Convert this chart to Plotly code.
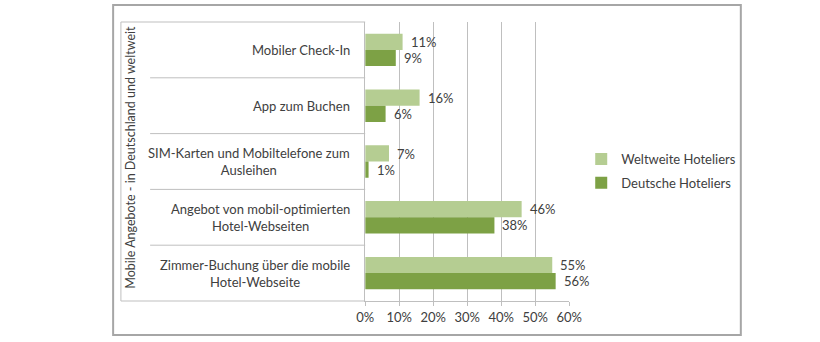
import plotly.graph_objects as go

categories = [
    "Mobiler Check-In",
    "App zum Buchen",
    "SIM-Karten und Mobiltelefone zum<br>Ausleihen",
    "Angebot von mobil-optimierten<br>Hotel-Webseiten",
    "Zimmer-Buchung über die mobile<br>Hotel-Webseite",
]
weltweit = [11, 16, 7, 46, 55]
deutsch = [9, 6, 1, 38, 56]
series_names = ["Weltweite Hoteliers", "Deutsche Hoteliers"]
tick_vals = [0, 10, 20, 30, 40, 50, 60]
tick_text = ["0%", "10%", "20%", "30%", "40%", "50%", "60%"]
y_title = "Mobile Angebote - in Deutschland und weltweit"

W, H = 820, 342
FONT = "Lato"
TXT = "#404040"
GRID = "#bfbfbf"
LIGHT = "#b5cd92"
DARK = "#7da145"

def fx(px):
    return px / W

def fy(py):
    return 1 - py / H

fig = go.Figure()
fig.add_trace(go.Bar(y=categories, x=weltweit, orientation="h", name=series_names[0],
                     marker=dict(color=LIGHT, line=dict(width=0)), legendgroup="a"))
fig.add_trace(go.Bar(y=categories, x=deutsch, orientation="h", name=series_names[1],
                     marker=dict(color=DARK, line=dict(width=0)), legendgroup="b"))

annotations = []
# data labels
for vals, shift in ((weltweit, 8), (deutsch, -8)):
    for c, v in zip(categories, vals):
        annotations.append(dict(x=v, y=c, xref="x", yref="y", text=f"{v}%", showarrow=False,
                                xanchor="left", yanchor="middle", xshift=6, yshift=shift,
                                font=dict(family=FONT, size=13, color=TXT)))
# category labels
for c in categories:
    annotations.append(dict(x=fx(352), y=c, xref="paper", yref="y", text=c, showarrow=False,
                            xanchor="right", yanchor="middle", align="center",
                            font=dict(family=FONT, size=13, color=TXT)))
# axis title
annotations.append(dict(x=fx(125), y=fy(157), xref="paper", yref="paper", text=y_title,
                        showarrow=False, textangle=-90, xanchor="center", yanchor="middle",
                        font=dict(family=FONT, size=12.5, color=TXT)))

shapes = [
    dict(type="rect", xref="paper", yref="paper", x0=fx(107), x1=fx(752), y0=fy(5), y1=fy(335),
         line=dict(color="#a6a6a6", width=2)),
    dict(type="line", xref="paper", yref="paper", x0=fx(115), x1=fx(115), y0=fy(22), y1=fy(301),
         line=dict(color=GRID, width=1)),
    dict(type="line", xref="paper", yref="paper", x0=fx(115), x1=fx(366), y0=fy(22), y1=fy(22),
         line=dict(color=GRID, width=1)),
    dict(type="line", xref="paper", yref="paper", x0=fx(115), x1=fx(366), y0=fy(301), y1=fy(301),
         line=dict(color=GRID, width=1)),
]
for k in range(len(categories) - 1):
    shapes.append(dict(type="line", xref="paper", yref="y", x0=fx(145), x1=fx(366),
                       y0=k + 0.5, y1=k + 0.5, line=dict(color=GRID, width=1)))

fig.update_layout(
    width=W, height=H,
    margin=dict(l=0, r=0, t=0, b=0),
    paper_bgcolor="white", plot_bgcolor="white",
    barmode="group", bargap=0.42, bargroupgap=0,
    font=dict(family=FONT, size=13, color=TXT),
    xaxis=dict(domain=[fx(366), fx(575.7)], range=[0, 60], tickvals=tick_vals, ticktext=tick_text,
               showgrid=True, gridcolor=GRID, gridwidth=1, zeroline=False,
               showline=True, linecolor=GRID, ticks="outside", ticklen=4, tickcolor=GRID,
               tickfont=dict(family=FONT, size=13, color=TXT)),
    yaxis=dict(domain=[fy(301), fy(22)], categoryorder="array", categoryarray=categories,
               autorange="reversed", showticklabels=False, showgrid=False, zeroline=False,
               showline=True, linecolor=GRID, ticks=""),
    legend=dict(x=fx(588), y=fy(144), xanchor="left", yanchor="top",
                traceorder="grouped", tracegroupgap=4,
                font=dict(family=FONT, size=13, color=TXT), bgcolor="rgba(0,0,0,0)"),
    annotations=annotations,
    shapes=shapes,
)

fig.write_html("out.html")
